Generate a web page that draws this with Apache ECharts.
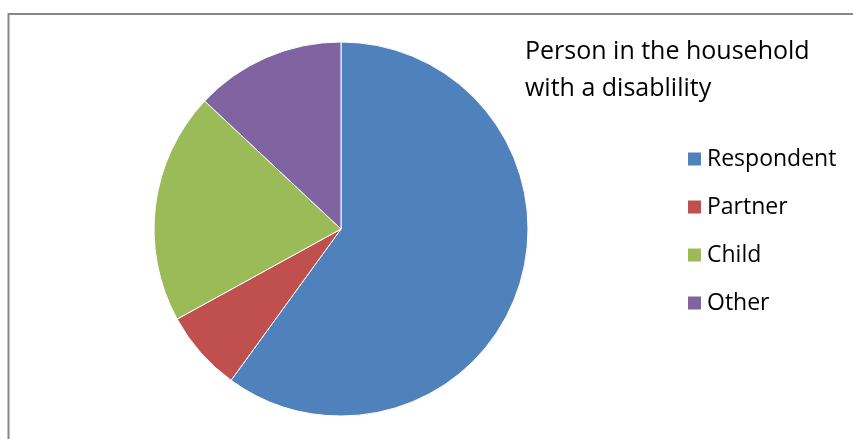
<!DOCTYPE html>
<html>
<head>
<meta charset="utf-8">
<script src="https://cdn.jsdelivr.net/npm/echarts@6/dist/echarts.min.js"></script>
<style>
html,body{margin:0;padding:0;background:#fff;}
#chart{width:853px;height:439px;}
</style>
</head>
<body>
<div id="chart"></div>
<script>
const categories = ['Respondent', 'Partner', 'Child', 'Other'];
const values = [60, 7, 20, 13];
const colors = ['#4F81BD', '#C0504D', '#9BBB59', '#8064A2'];
const titleText = 'Person in the household\nwith a disablility';

const chart = echarts.init(document.getElementById('chart'), null, {renderer: 'canvas'});
const font = '"Open Sans", "Liberation Sans", sans-serif';
chart.setOption({
  animation: false,
  backgroundColor: '#fff',
  graphic: [{
    type: 'polyline',
    shape: {points: [[8.5, 460], [8.5, 14], [870, 14]]},
    style: {stroke: '#878787', lineWidth: 2, fill: null},
    silent: true
  }],
  title: {
    text: titleText,
    left: 525,
    top: 33,
    padding: 0,
    textStyle: {fontFamily: font, fontSize: 25, fontWeight: 'normal', color: '#000', lineHeight: 37}
  },
  legend: {
    orient: 'vertical',
    left: 681,
    top: 142,
    itemWidth: 15,
    itemHeight: 15,
    itemGap: 24,
    icon: 'rect',
    textStyle: {fontFamily: font, fontSize: 23, color: '#000', lineHeight: 24},
    data: categories
  },
  series: [{
    type: 'pie',
    center: [341, 229],
    radius: 187,
    startAngle: 90,
    clockwise: true,
    label: {show: false},
    labelLine: {show: false},
    itemStyle: {borderColor: '#fff', borderWidth: 1},
    emphasis: {disabled: true},
    data: categories.map((c, i) => ({name: c, value: values[i], itemStyle: {color: colors[i]}}))
  }]
});
</script>
</body>
</html>
